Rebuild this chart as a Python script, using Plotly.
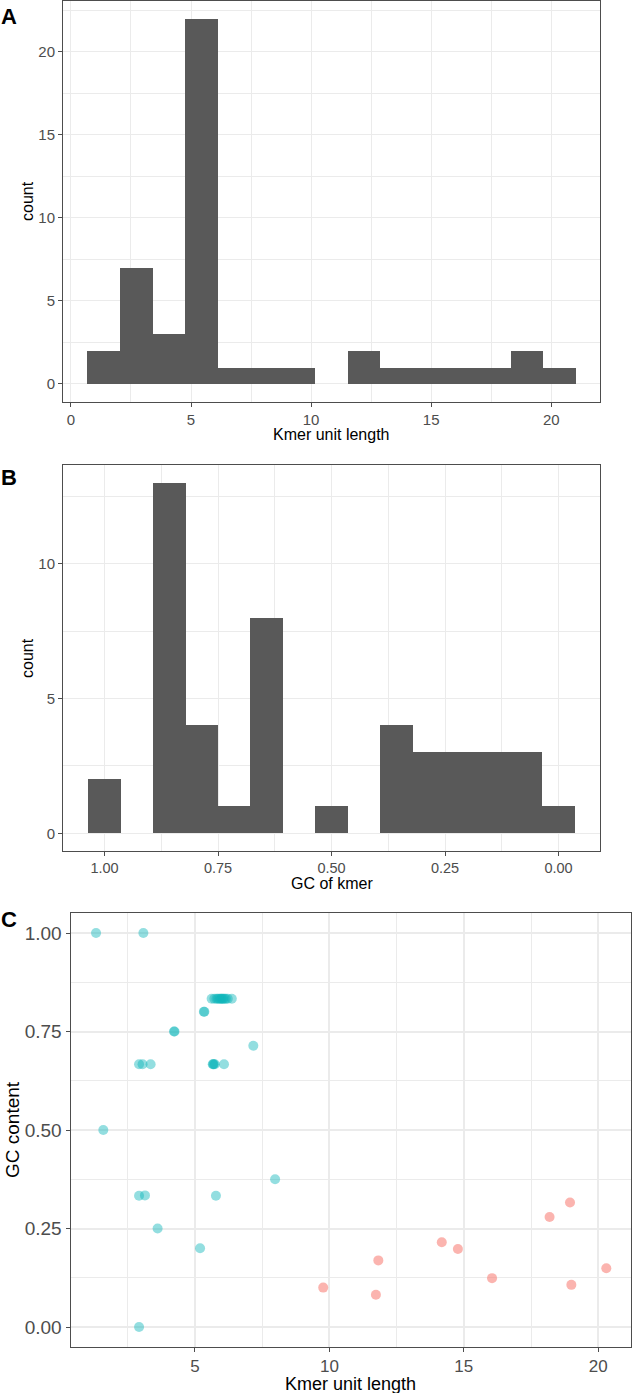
import plotly.graph_objects as go

# ---------------- data ----------------
# Panel A: histogram of kmer unit length (15 bins)
kmer_bin_lo = [0.685, 2.041, 3.397, 4.753, 6.109, 7.465, 8.821, 10.177, 11.533,
               12.889, 14.245, 15.601, 16.957, 18.313, 19.669]
kmer_bin_width = 1.356
kmer_counts = [2, 7, 3, 22, 1, 1, 1, 0, 2, 1, 1, 1, 1, 2, 1]

# Panel B: histogram of GC of kmer (15 bins, low -> high)
gc_bin_lo = [-0.0357, 0.0357, 0.1071, 0.1786, 0.2500, 0.3214, 0.3929, 0.4643, 0.5357,
             0.6071, 0.6786, 0.7500, 0.8214, 0.8929, 0.9643]
gc_bin_width = 0.07143
gc_counts = [1, 3, 3, 3, 3, 4, 0, 1, 0, 8, 1, 4, 13, 0, 2]

# Panel C: scatter, two groups
short_len = [1.32, 3.08,
             5.62, 5.72, 5.80, 5.85, 5.90, 5.95, 5.98, 6.02, 6.05, 6.10, 6.15, 6.22, 6.37,
             5.33, 5.35, 4.22, 4.24, 7.17,
             2.92, 3.05, 3.35, 5.66, 5.68, 5.70, 5.74, 6.08,
             1.59, 7.98, 2.92, 3.14, 5.78, 3.61, 5.19, 2.92]
short_gc = [1.0, 1.0,
            0.833, 0.833, 0.833, 0.833, 0.833, 0.833, 0.833, 0.833, 0.833, 0.833, 0.833, 0.833, 0.833,
            0.8, 0.8, 0.75, 0.75, 0.714,
            0.667, 0.667, 0.667, 0.667, 0.667, 0.667, 0.667, 0.667,
            0.5, 0.375, 0.333, 0.334, 0.333, 0.25, 0.2, 0.0]
long_len = [9.77, 11.82, 11.73, 14.18, 14.78, 16.05, 18.19, 18.95, 19.00, 20.30]
long_gc = [0.100, 0.169, 0.082, 0.215, 0.198, 0.124, 0.279, 0.316, 0.107, 0.149]

# ---------------- styling ----------------
W, H = 632, 1393
FONT = "Liberation Sans, Arial, Helvetica, sans-serif"
GRID = "#EBEBEB"
BORDER = "#4D4D4D"
TICKC = "#4D4D4D"
BAR = "#595959"
TEAL = "#10B6BB"
SALMON = "#F8766D"


def px_x(p):
    return p / W


def px_y(p):
    return 1 - p / H


fig = go.Figure()

fig.add_trace(go.Bar(x=kmer_bin_lo, y=kmer_counts, width=kmer_bin_width, offset=0,
                     marker=dict(color=BAR, line=dict(width=0)),
                     xaxis="x", yaxis="y", showlegend=False))
fig.add_trace(go.Bar(x=gc_bin_lo, y=gc_counts, width=gc_bin_width, offset=0,
                     marker=dict(color=BAR, line=dict(width=0)),
                     xaxis="x2", yaxis="y2", showlegend=False))
fig.add_trace(go.Scatter(x=short_len, y=short_gc, mode="markers",
                         marker=dict(color=TEAL, size=10, opacity=0.45, line=dict(width=0)),
                         xaxis="x3", yaxis="y3", showlegend=False))
fig.add_trace(go.Scatter(x=long_len, y=long_gc, mode="markers",
                         marker=dict(color=SALMON, size=10, opacity=0.55, line=dict(width=0)),
                         xaxis="x3", yaxis="y3", showlegend=False))


def axis(domain, rng, tickvals, ticktext, minor_dtick, anchor, fs, gw=1, mgw=0.6):
    return dict(domain=domain, range=rng, tickvals=tickvals, ticktext=ticktext,
                showgrid=True, gridcolor=GRID, gridwidth=gw, zeroline=False,
                showline=True, mirror=True, linecolor=BORDER, linewidth=1,
                ticks="outside", ticklen=4, tickcolor=BORDER, tickwidth=1,
                tickfont=dict(family=FONT, size=fs, color=TICKC),
                minor=dict(dtick=minor_dtick, tick0=0, showgrid=True, gridcolor=GRID,
                           gridwidth=mgw, ticks=""),
                anchor=anchor, fixedrange=True)


xA = [px_x(63), px_x(600)]
yA = [px_y(402), px_y(0.5)]
yB = [px_y(851), px_y(465)]
xC = [px_x(70.5), px_x(630.5)]
yC = [px_y(1346.7), px_y(913.3)]

layout = dict(
    width=W, height=H, margin=dict(l=0, r=0, t=0, b=0),
    paper_bgcolor="white", plot_bgcolor="white", bargap=0,
    font=dict(family=FONT),
    xaxis=axis(xA, [-0.33, 22.03], [0, 5, 10, 15, 20], ["0", "5", "10", "15", "20"], 2.5, "y", 15),
    yaxis=axis(yA, [-1.1, 23.1], [0, 5, 10, 15, 20], ["0", "5", "10", "15", "20"], 2.5, "x", 15),
    xaxis2=axis(xA, [1.0914, -0.0914], [1.0, 0.75, 0.5, 0.25, 0.0],
                ["1.00", "0.75", "0.50", "0.25", "0.00"], 0.125, "y2", 14.5),
    yaxis2=axis(yB, [-0.65, 13.65], [0, 5, 10], ["0", "5", "10"], 2.5, "x2", 15),
    xaxis3=axis(xC, [0.37, 21.2], [5, 10, 15, 20], ["5", "10", "15", "20"], 2.5, "y3", 17, gw=2, mgw=1),
    yaxis3=axis(yC, [-0.05, 1.05], [0, 0.25, 0.5, 0.75, 1.0],
                ["0.00", "0.25", "0.50", "0.75", "1.00"], 0.125, "x3", 19, gw=2, mgw=1),
)
fig.update_layout(**layout)


def ann(text, x, y, size, bold=False, angle=0, color="black"):
    fig.add_annotation(text=("<b>%s</b>" % text) if bold else text,
                       x=px_x(x), y=px_y(y), xref="paper", yref="paper",
                       showarrow=False, textangle=angle, xanchor="center", yanchor="middle",
                       font=dict(family=FONT, size=size, color=color))


# axis titles
ann("Kmer unit length", 331.5, 435, 16)
ann("count", 27, 201, 16, angle=-90)
ann("GC of kmer", 331.5, 883, 16)
ann("count", 27, 658, 16, angle=-90)
ann("Kmer unit length", 350.5, 1383.5, 18)
ann("GC content", 12, 1130, 19, angle=-90)
# panel tags
ann("A", 9, 16, 22, bold=True)
ann("B", 9, 477, 22, bold=True)
ann("C", 9, 920, 22, bold=True)

fig.write_html("out.html", config={"displayModeBar": False},
               post_script="document.body.style.margin='0';")
